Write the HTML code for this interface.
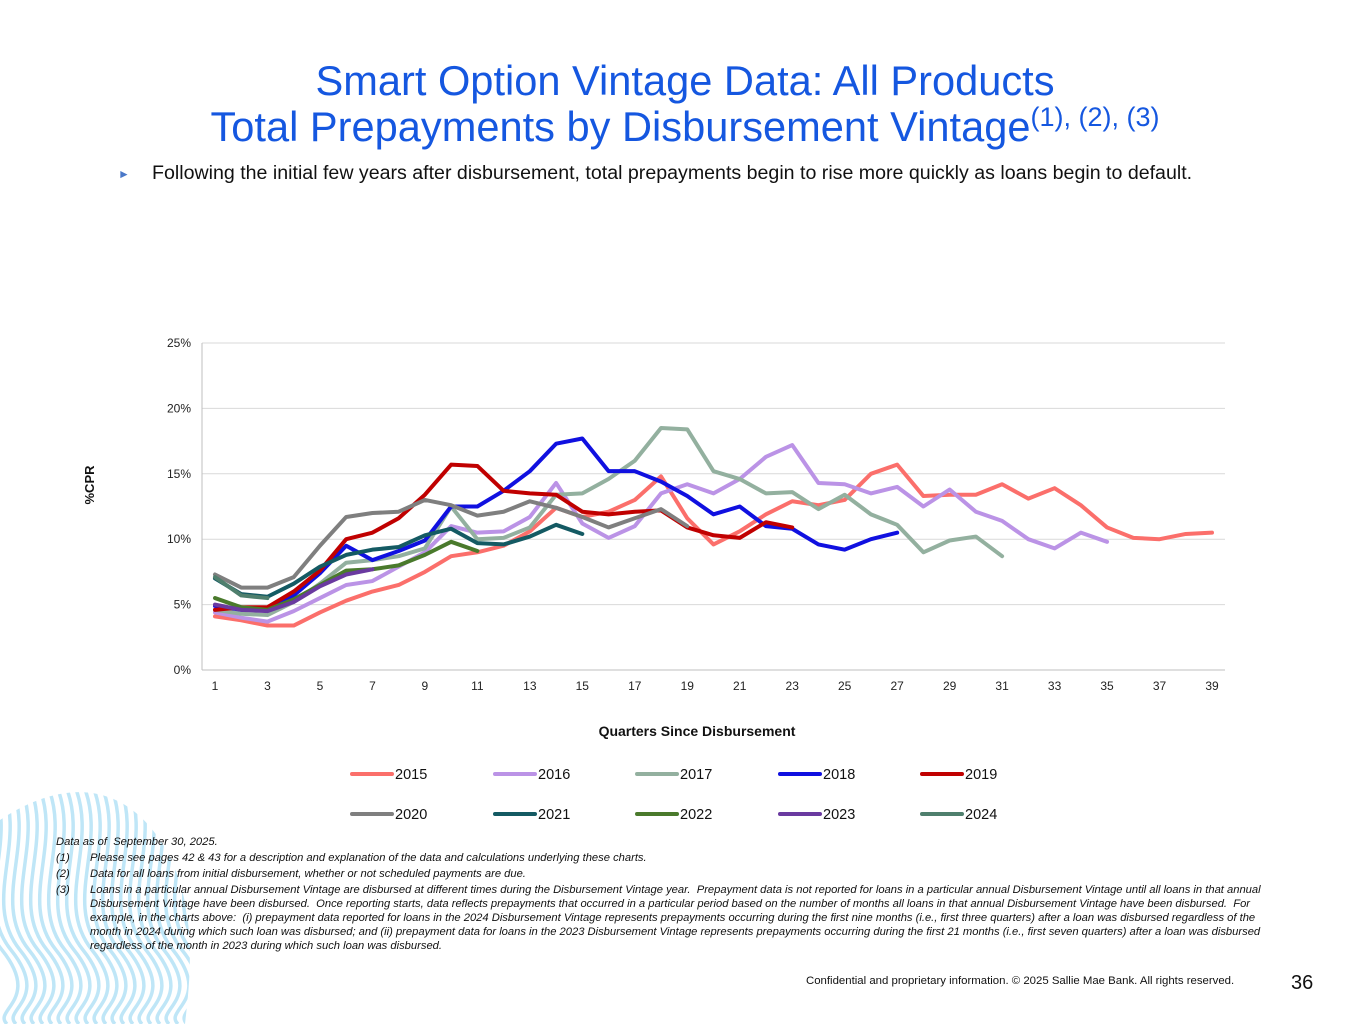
<!DOCTYPE html>
<html><head><meta charset="utf-8">
<style>
body{margin:0;width:1365px;height:1024px;background:#fff;font-family:"Liberation Sans",Arial,sans-serif;position:relative;overflow:hidden}
.t{position:absolute;white-space:nowrap}
#title{left:0;width:1370px;text-align:center;top:58px;color:#1557e0;font-size:41.6px;line-height:46px}
#title sup{font-size:27px;vertical-align:15px;line-height:0}
.fn{position:absolute;font-size:11.2px;font-style:italic;color:#111;line-height:14px}
</style></head><body>
<svg style="position:absolute;left:0;top:780px" width="250" height="244">
<defs><clipPath id="cp"><path d="M0,40 C60,0 120,0 160,60 C200,120 190,200 185,244 L0,244 Z"/></clipPath></defs>
<g clip-path="url(#cp)" stroke="#bfe6f7" stroke-width="3.5" fill="none" id="waves"></g>
</svg>
<div id="title" class="t">Smart Option Vintage Data: All Products<br>Total Prepayments by Disbursement Vintage<sup>(1), (2), (3)</sup></div>
<div class="t" style="left:118px;top:167px;font-size:12px;color:#4a78c8">►</div>
<div class="t" style="left:152px;top:162px;font-size:19.6px;color:#111">Following the initial few years after disbursement, total prepayments begin to rise more quickly as loans begin to default.</div>
<svg id="chart" style="position:absolute;left:0;top:0" width="1365" height="860"></svg>
<div class="fn" style="left:56px;top:835px">Data as of&nbsp; September 30, 2025.</div>
<div class="fn" style="left:56px;top:851px">(1)</div>
<div class="fn" style="left:90px;top:851px">Please see pages 42 &amp; 43 for a description and explanation of the data and calculations underlying these charts.</div>
<div class="fn" style="left:56px;top:867px">(2)</div>
<div class="fn" style="left:90px;top:867px">Data for all loans from initial disbursement, whether or not scheduled payments are due.</div>
<div class="fn" style="left:56px;top:883px">(3)</div>
<div class="fn" style="left:90px;top:883px;width:1198px;white-space:normal">Loans in a particular annual Disbursement Vintage are disbursed at different times during the Disbursement Vintage year.&nbsp; Prepayment data is not reported for loans in a particular annual Disbursement Vintage until all loans in that annual Disbursement Vintage have been disbursed.&nbsp; Once reporting starts, data reflects prepayments that occurred in a particular period based on the number of months all loans in that annual Disbursement Vintage have been disbursed.&nbsp; For example, in the charts above:&nbsp; (i) prepayment data reported for loans in the 2024 Disbursement Vintage represents prepayments occurring during the first nine months (i.e., first three quarters) after a loan was disbursed regardless of the month in 2024 during which such loan was disbursed; and (ii) prepayment data for loans in the 2023 Disbursement Vintage represents prepayments occurring during the first 21 months (i.e., first seven quarters) after a loan was disbursed regardless of the month in 2023 during which such loan was disbursed.</div>
<div class="t" style="left:806px;top:975px;font-size:11.4px;color:#111">Confidential and proprietary information. © 2025 Sallie Mae Bank. All rights reserved.</div>
<div class="t" style="left:1291px;top:972px;font-size:20px;color:#111">36</div>
<script>
const vintages=["2015","2016","2017","2018","2019","2020","2021","2022","2023","2024"];
const colors=["#fb6f6b","#bb93e6","#93b09f","#1010e0","#c00000","#7f7f7f","#145a63","#4a7a2c","#6a3aa0","#4f7f6d"];
const v2015=[4.1,3.8,3.4,3.4,4.4,5.3,6.0,6.5,7.5,8.7,9.0,9.5,10.6,12.4,11.7,12.1,13.0,14.8,11.6,9.6,10.6,11.9,12.9,12.6,13.0,15.0,15.7,13.3,13.4,13.4,14.2,13.1,13.9,12.6,10.9,10.1,10.0,10.4,10.5];
const v2016=[4.4,4.0,3.7,4.5,5.5,6.5,6.8,7.9,9.0,11.0,10.5,10.6,11.7,14.3,11.2,10.1,11.0,13.5,14.2,13.5,14.6,16.3,17.2,14.3,14.2,13.5,14.0,12.5,13.8,12.1,11.4,10.0,9.3,10.5,9.8];
const v2017=[4.6,4.3,4.2,5.2,6.6,8.2,8.4,8.7,9.3,12.5,10.0,10.1,10.9,13.4,13.5,14.6,16.0,18.5,18.4,15.2,14.6,13.5,13.6,12.3,13.4,11.9,11.1,9.0,9.9,10.2,8.7];
const v2018=[4.9,4.6,4.6,5.7,7.4,9.5,8.4,9.1,9.9,12.5,12.5,13.7,15.2,17.3,17.7,15.2,15.2,14.4,13.3,11.9,12.5,11.0,10.8,9.6,9.2,10.0,10.5];
const v2019=[4.6,4.8,4.8,6.0,7.6,10.0,10.5,11.6,13.4,15.7,15.6,13.7,13.5,13.4,12.1,11.9,12.1,12.2,10.9,10.3,10.1,11.3,10.9];
const v2020=[7.3,6.3,6.3,7.1,9.5,11.7,12.0,12.1,13.0,12.6,11.8,12.1,12.9,12.4,11.7,10.9,11.6,12.3,11.0];
const v2021=[7.0,5.8,5.6,6.6,7.9,8.8,9.2,9.4,10.3,10.8,9.7,9.6,10.2,11.1,10.4];
const v2022=[5.5,4.8,4.6,5.4,6.5,7.6,7.7,8.0,8.8,9.8,9.1];
const v2023=[5.0,4.6,4.5,5.2,6.4,7.3,7.7];
const v2024=[7.1,5.7,5.5];
const series=[v2015,v2016,v2017,v2018,v2019,v2020,v2021,v2022,v2023,v2024];
const yTicks=[0,5,10,15,20,25];
const xTicks=[1,3,5,7,9,11,13,15,17,19,21,23,25,27,29,31,33,35,37,39];
const NS="http://www.w3.org/2000/svg";
const svg=document.getElementById('chart');
const X0=202,X1=1225,Y0=670,Y1=343;
const xs=q=>215+(q-1)*(1212-215)/38;
const ys=v=>Y0-(v/25)*(Y0-Y1);
function mk(t,a,p){const e=document.createElementNS(NS,t);for(const k in a)e.setAttribute(k,a[k]);(p||svg).appendChild(e);return e;}
yTicks.forEach(v=>{
  const g=mk('line',{x1:X0,x2:X1,y1:ys(v),y2:ys(v),stroke:v===0?'#bfbfbf':'#d9d9d9','stroke-width':1});
  
  
  const t=mk('text',{x:X0-11,y:ys(v)+4,'text-anchor':'end','font-size':12,fill:'#222'});t.textContent=v+'%';
  
  
});
const ax=mk('line',{x1:X0,x2:X0,y1:Y1,y2:Y0,stroke:'#bfbfbf'});


xTicks.forEach(q=>{
  const t=mk('text',{x:xs(q),y:690,'text-anchor':'middle','font-size':12,fill:'#222'});t.textContent=q;
  
  
});
const yt=mk('text',{x:0,y:0,transform:'translate(94,485) rotate(-90)','text-anchor':'middle','font-size':13,'font-weight':'bold',fill:'#111'});yt.textContent='%CPR';


const xt=mk('text',{x:697,y:736,'text-anchor':'middle','font-size':14,'font-weight':'bold',fill:'#111'});xt.textContent='Quarters Since Disbursement';


series.forEach((s,i)=>{
  const pts=s.map((v,j)=>xs(j+1)+','+ys(v)).join(' ');
  const p=mk('polyline',{points:pts,fill:'none',stroke:colors[i],'stroke-width':4,'stroke-linejoin':'round','stroke-linecap':'round'});
  
  
});
const lx=[352,495,637,780,922];
vintages.forEach((v,i)=>{
  const x=lx[i%5],y=i<5?774:814;
  const g=mk('g',{});
  
  
  mk('line',{x1:x,x2:x+40,y1:y,y2:y,stroke:colors[i],'stroke-width':4,'stroke-linecap':'round'},g);
  const t=mk('text',{x:x+43,y:y+5,'font-size':14.5,fill:'#111'},g);t.textContent=v;
});
const w=document.getElementById('waves');
for(let k=-2;k<26;k++){
  const x=k*9;
  const p=document.createElementNS(NS,'path');
  p.setAttribute('d',`M${x},0 C${x+30},60 ${x-20},120 ${x+20},170 S${x+10},230 ${x+25},244`);
  
  
  w.appendChild(p);
}
</script>
</body></html>
